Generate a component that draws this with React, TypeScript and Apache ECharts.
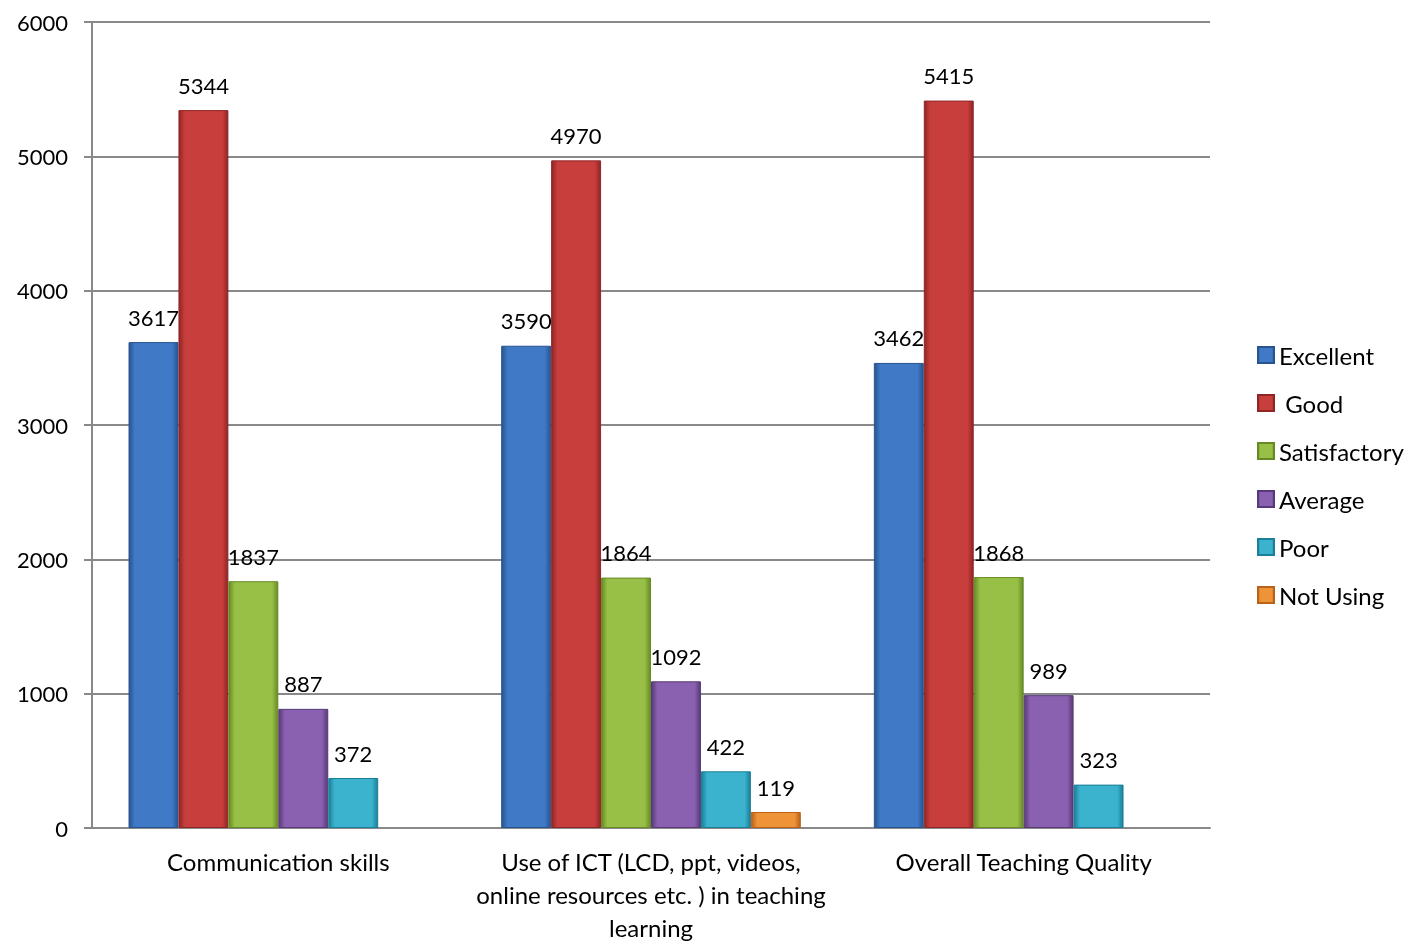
import React, { useEffect, useRef } from "react";
import * as echarts from "echarts";

const categories = [
  "Communication skills",
  "Use of ICT (LCD, ppt, videos,\nonline resources etc. ) in teaching\nlearning",
  "Overall Teaching Quality",
];
const seriesNames = ["Excellent", " Good", "Satisfactory", "Average", "Poor", "Not Using"];
const excellent = [3617, 3590, 3462];
const good = [5344, 4970, 5415];
const satisfactory = [1837, 1864, 1868];
const average = [887, 1092, 989];
const poor = [372, 422, 323];
const notUsing = [null, 119, null];
const yTicks = [0, 1000, 2000, 3000, 4000, 5000, 6000];

const palette = [
  ["#27548f", "#4079c6"],
  ["#8f2626", "#c83e3c"],
  ["#678a25", "#98c046"],
  ["#573a77", "#8a60b0"],
  ["#1c7f98", "#3bb3cf"],
  ["#b8621a", "#ee9338"],
];

export default function App() {
  const ref = useRef<HTMLDivElement>(null);
  useEffect(() => {
    if (!ref.current) return;
    const chart = echarts.init(ref.current, undefined, { renderer: "svg" });
    const data = [excellent, good, satisfactory, average, poor, notUsing];
    const font = "Lato, 'Noto Sans', sans-serif";
    chart.setOption({
      animation: false,
      textStyle: { fontFamily: font },
      legend: {
        orient: "vertical",
        left: 1252,
        top: 338,
        itemWidth: 16,
        itemHeight: 16,
        itemGap: 24,
        icon: "rect",
        textStyle: { fontSize: 24, lineHeight: 24, color: "#000", fontFamily: font, padding: [0, 0, 0, 0] },
        data: seriesNames,
      },
      grid: { left: 92, right: 198, top: 22, bottom: 109, containLabel: false },
      xAxis: {
        type: "category",
        data: categories,
        axisTick: { show: false },
        axisLine: { lineStyle: { color: "#898989", width: 2 } },
        axisLabel: { fontSize: 24, color: "#000", lineHeight: 33, margin: 17, interval: 0, fontFamily: font },
      },
      yAxis: {
        type: "value",
        min: 0,
        max: 6000,
        interval: 1000,
        axisLine: { show: true, lineStyle: { color: "#898989", width: 2 } },
        axisTick: { show: true, length: 8, lineStyle: { color: "#898989", width: 2 } },
        splitLine: { lineStyle: { color: "#898989", width: 2 } },
        axisLabel: {
          fontSize: 22,
          color: "#000",
          margin: 24,
          fontFamily: font,
          formatter: (v: number) => (yTicks.includes(v) ? String(v) : ""),
        },
      },
      series: data.map((d, i) => ({
        name: seriesNames[i],
        type: "bar",
        data: d,
        barGap: "0%",
        barCategoryGap: "19.6%",
        itemStyle: {
          color: new echarts.graphic.LinearGradient(0, 0, 1, 0, [
            { offset: 0, color: palette[i][0] },
            { offset: 0.12, color: palette[i][1] },
            { offset: 0.88, color: palette[i][1] },
            { offset: 1, color: palette[i][0] },
          ]),
          borderColor: palette[i][0],
          borderWidth: 1,
        },
        label: {
          show: true,
          position: "top",
          distance: 14,
          fontSize: 22,
          color: "#000",
          fontFamily: font,
        },
      })),
    });
    return () => chart.dispose();
  }, []);
  return (
    <div
      ref={ref}
      style={{ position: "fixed", left: 0, top: 0, width: 1408, height: 944 }}
    />
  );
}
